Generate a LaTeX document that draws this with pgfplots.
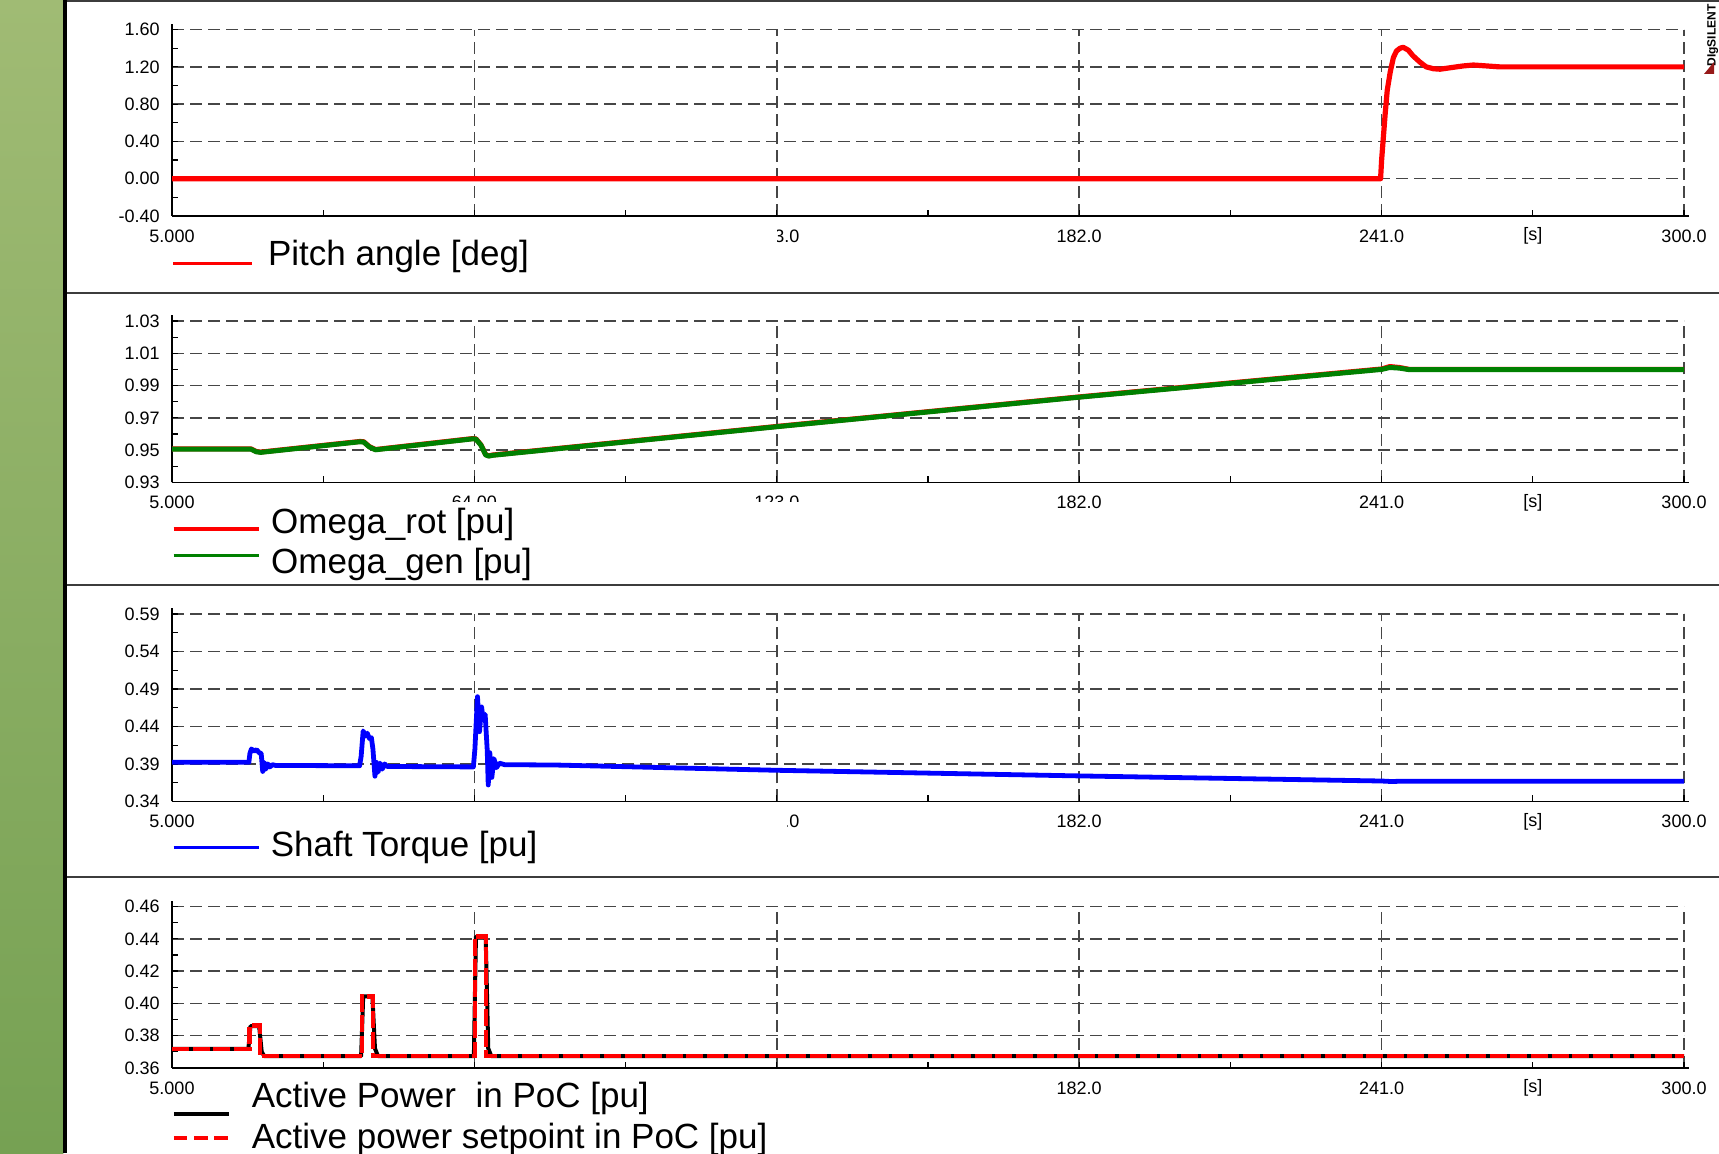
\documentclass[border=0pt]{standalone}
\usepackage{fontspec}
\setmainfont{Liberation Sans}
\usepackage{pgfplots}
\pgfplotsset{compat=1.18}
\setlength{\fboxsep}{0pt}
\definecolor{gtop}{RGB}{160,187,116}
\definecolor{gbot}{RGB}{118,161,83}
\definecolor{pgreen}{RGB}{0,128,0}
\definecolor{gridc}{RGB}{70,70,70}
\definecolor{sepc}{RGB}{60,60,60}
\definecolor{logored}{RGB}{150,25,25}
\newcommand{\lbox}[4]{\colorbox{white}{\makebox[#1][l]{\rule[-#2]{0pt}{\dimexpr #2+#3\relax}#4}}}

\pgfplotsset{dig/.style={
  scale only axis, width=756pt, xmin=5, xmax=300,
  axis x line*=bottom, axis y line*=left,
  axis line style={line width=0.9pt, black},
  x axis line style={shorten >=-2.5pt},
  y axis line style={shorten >=-3pt},
  xtick={5,64,123,182,241,300},
  xticklabels={5.000,64.00,123.0,182.0,241.0,300.0},
  extra x ticks={270.5}, extra x tick labels={[s]},
  extra x tick style={grid=none},
  minor x tick num=1, minor y tick num=1,
  tick align=inside, major tick length=3pt, minor tick length=3pt,
  tick style={line width=0.6pt, black},
  grid=major,
  major grid style={dash pattern=on 6pt off 3pt, line width=0.75pt, gridc},
  tick label style={font=\fontsize{9}{10}\selectfont},
  xticklabel style={anchor=center, yshift=-10pt, inner sep=0pt},
  yticklabel style={anchor=east, xshift=-6pt, inner sep=0pt},
  y tick label style={/pgf/number format/fixed, /pgf/number format/fixed zerofill, /pgf/number format/precision=2, /pgf/number format/assume math mode=true},
  legend style={at={(axis description cs:0,0)}, anchor=north west, draw=none, fill=none, inner sep=0pt, outer sep=0pt, cells={anchor=base west}, nodes={inner sep=0pt, text depth=}, row sep=0pt, font=\fontsize{17.5}{21}\selectfont},
}}

\begin{document}
\begin{tikzpicture}
\useasboundingbox (0pt,0pt) rectangle (859.5pt,576.5pt);
\fill[white] (0pt,0pt) rectangle (859.5pt,576.5pt);
\shade[top color=gtop, bottom color=gbot] (0pt,0pt) rectangle (31.65pt,576.5pt);
\fill[black] (31.65pt,0pt) rectangle (33.35pt,576.5pt);
\draw[sepc, line width=1pt] (33.35pt,576pt) -- (859.5pt,576pt);
\draw[sepc, line width=1pt] (33.35pt,430.15pt) -- (859.5pt,430.15pt);
\draw[sepc, line width=1pt] (33.35pt,284pt) -- (859.5pt,284pt);
\draw[sepc, line width=1pt] (33.35pt,137.85pt) -- (859.5pt,137.85pt);
\node[rotate=90, font=\bfseries\fontsize{6}{7}\selectfont, inner sep=0pt] at (856.4pt,558.8pt) {DIgSILENT};
\fill[logored] (852.0pt,539.5pt) -- (857.0pt,539.5pt) -- (857.0pt,545.5pt) -- cycle;

% Panel 1: pitch angle
\begin{axis}[dig, at={(86pt,468.5pt)}, anchor=south west, height=93.2pt,
  ymin=-0.4, ymax=1.6, ytick={-0.4,0,0.4,0.8,1.2,1.6},
  legend style={yshift=-6pt, column sep=7.2pt}]
\addplot[red, line width=2.6pt, line join=round,
  legend image code/.code={\draw[red, line width=1.35pt] (0pt,1.2pt) -- (39.5pt,1.2pt);}]
  coordinates {(5,0) (240.8,0) (241.0,0.2) (241.7,0.70) (242.1,0.95) (242.7,1.15) (243.3,1.30) (243.9,1.37) (244.6,1.40) (245.2,1.41) (246.2,1.38) (247.1,1.32) (248.5,1.25) (249.7,1.20) (251.1,1.18) (252.4,1.175) (254.3,1.19) (256.9,1.21) (258.9,1.22) (261.5,1.21) (264,1.20) (300,1.20)};
\addlegendentry{\lbox{254.3pt}{5pt}{18.85pt}{Pitch angle [deg]}}
\end{axis}

% Panel 2: omegas
\begin{axis}[dig, at={(86pt,335.3pt)}, anchor=south west, height=80.7pt,
  ymin=0.93, ymax=1.03, ytick={0.93,0.95,0.97,0.99,1.01,1.03},
  legend style={yshift=-9.8pt, column sep=5.5pt}]
\addplot[red, line width=2.5pt, line join=round,
  legend image code/.code={\draw[red, line width=1.6pt] (0pt,2.2pt) -- (42.5pt,2.2pt);}]
  coordinates {(5,0.9508) (20.4,0.9508) (21.4,0.9492) (22.3,0.9488) (41.7,0.9554) (42.4,0.9552) (43.5,0.9522) (44.7,0.9504) (63.7,0.9572) (64.3,0.9570) (65.3,0.9532) (66.2,0.9472) (66.8,0.9465) (67.6,0.9470) (123,0.9647) (182,0.9830) (241,1.0003) (242.6,1.0018) (244.5,1.0012) (246.5,1.0000) (300,1.0000)};
\addlegendentry{\lbox{271pt}{4pt}{15.65pt}{Omega\_rot [pu]}}
\addplot[pgreen, line width=2.5pt, line join=round,
  legend image code/.code={\draw[pgreen, line width=1.6pt] (0pt,8.8pt) -- (42.5pt,8.8pt);}]
  coordinates {(5,0.9506) (20.4,0.9506) (21.4,0.9490) (22.3,0.9486) (41.7,0.9552) (42.4,0.9550) (43.5,0.9520) (44.7,0.9502) (63.7,0.9570) (64.3,0.9568) (65.3,0.9530) (66.2,0.9470) (66.8,0.9463) (67.6,0.9468) (123,0.9645) (182,0.9828) (241,1.0000) (242.6,1.0012) (244.5,1.0008) (246.5,0.9998) (300,0.9998)};
\addlegendentry{\lbox{271pt}{5pt}{16pt}{Omega\_gen [pu]}}
\end{axis}

% Panel 3: shaft torque
\begin{axis}[dig, at={(86pt,175.8pt)}, anchor=south west, height=93.7pt,
  ymin=0.34, ymax=0.59, ytick={0.34,0.39,0.44,0.49,0.54,0.59},
  legend style={yshift=-5.8pt, column sep=5.3pt}]
\addplot[blue, line width=2.4pt, line join=round,
  legend image code/.code={\draw[blue, line width=1.6pt] (0pt,4.5pt) -- (42.5pt,4.5pt);}]
  coordinates {(5,0.3922) (20.0,0.3922) (20.2,0.404) (20.5,0.410) (21.0,0.407) (21.5,0.409) (22.0,0.405) (22.4,0.404) (22.7,0.380) (23.0,0.392) (23.3,0.383) (23.7,0.390) (24.1,0.386) (24.6,0.389) (25.2,0.3880) (41.6,0.3875) (41.9,0.400) (42.3,0.434) (42.7,0.427) (43.1,0.431) (43.5,0.424) (43.9,0.425) (44.2,0.410) (44.6,0.3736) (44.9,0.392) (45.2,0.379) (45.6,0.391) (46.0,0.383) (46.5,0.390) (47.0,0.3866) (63.8,0.3860) (64.1,0.410) (64.6,0.4797) (65.0,0.433) (65.4,0.466) (65.7,0.450) (66.1,0.456) (66.5,0.4086) (66.7,0.3619) (67.0,0.405) (67.4,0.372) (67.8,0.397) (68.3,0.385) (68.9,0.391) (69.9,0.389) (80,0.3885) (123,0.3815) (182,0.3740) (241,0.3672) (243,0.3665) (245,0.3670) (300,0.3670)};
\addlegendentry{\lbox{258.2pt}{5pt}{21.85pt}{Shaft Torque [pu]}}
\end{axis}

% Panel 4: active power
\begin{axis}[dig, at={(86pt,42.6pt)}, anchor=south west, height=80.6pt,
  ymin=0.36, ymax=0.46, ytick={0.36,0.38,0.40,0.42,0.44,0.46},
  legend style={yshift=-5.6pt, column sep=10.6pt}]
\addplot[black, line width=2pt, line join=round,
  legend image code/.code={\draw[black, line width=2pt] (0pt,-3.5pt) -- (27.35pt,-3.5pt);}]
  coordinates {(5,0.3718) (19.9,0.3718) (20.3,0.3858) (22.0,0.3858) (22.5,0.3700) (23.0,0.3672) (41.9,0.3672) (42.3,0.4043) (44.1,0.4043) (44.6,0.3720) (45.2,0.3672) (63.9,0.3672) (64.3,0.4414) (66.2,0.4414) (66.7,0.3720) (67.3,0.3672) (300,0.3672)};
\addlegendentry{\lbox{285.7pt}{4.5pt}{14.15pt}{Active Power~~in PoC [pu]}}
\addplot[red, line width=2.2pt, dash pattern=on 8.5pt off 1.8pt,
  legend image code/.code={\draw[red, line width=2pt, dash pattern=on 6.7pt off 3.4pt] (0pt,5pt) -- (27.35pt,5pt);}]
  coordinates {(5,0.3718) (20.1,0.3718) (20.1,0.3862) (22.2,0.3862) (22.2,0.3672) (42.1,0.3672) (42.1,0.4043) (44.2,0.4043) (44.2,0.3672) (64.1,0.3672) (64.1,0.4414) (66.3,0.4414) (66.3,0.3672) (300,0.3672)};
\addlegendentry{\lbox{285.7pt}{5pt}{16pt}{Active power setpoint in PoC [pu]}}
\end{axis}
\end{tikzpicture}
\end{document}
